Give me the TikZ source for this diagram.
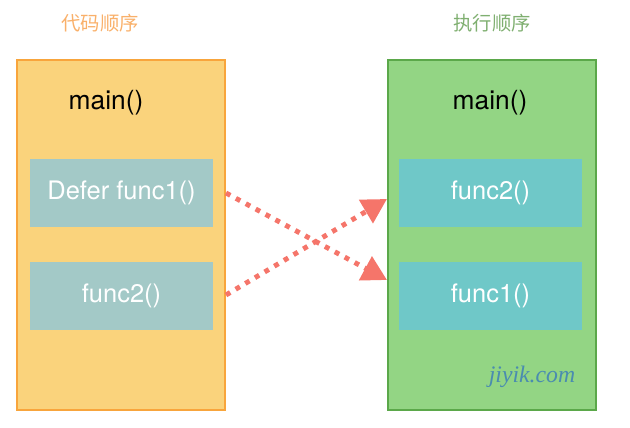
\documentclass[tikz,border=0pt]{standalone}
\usepackage{fontspec}
\setmainfont{TeX Gyre Heros}
\newfontfamily\cjk{Noto Sans CJK SC}
\newfontfamily\logofont{Liberation Serif}
\usepackage{tikz}
\usetikzlibrary{arrows.meta}
\definecolor{codefill}{HTML}{FAD37C}
\definecolor{codeline}{HTML}{F8A53C}
\definecolor{codetitle}{HTML}{F9B06A}
\definecolor{execfill}{HTML}{93D584}
\definecolor{execline}{HTML}{5BA84A}
\definecolor{exectitle}{HTML}{7FAF70}
\definecolor{oldcall}{HTML}{A3C9C7}
\definecolor{newcall}{HTML}{6FC8C8}
\definecolor{flow}{HTML}{F5756A}
\definecolor{logo}{HTML}{4A8CB0}

\begin{document}
\begin{tikzpicture}[x=0.02cm,y=-0.02cm,
		column/.style={draw, line width=1.3pt, minimum width=4.16cm, minimum height=7cm, inner sep=0pt},
		call/.style={minimum width=3.66cm, minimum height=1.36cm, inner sep=0pt, text=white, font=\fontsize{14.5}{16}\selectfont},
		flowline/.style={draw=flow, line width=2.8pt, dash pattern=on 2.8pt off 3.6pt, -{Triangle[length=14pt,width=15pt]}}]
		\useasboundingbox (0,0) rectangle (630,428);
		\node[column, fill=codefill, draw=codeline] (code) at (121,235) {};
		\node[column, fill=execfill, draw=execline] (exec) at (492,235) {};
		%
		\node[text=codetitle, font=\cjk\fontsize{11}{13}\selectfont] (codetitle) at (100,23) {代码顺序};
		\node[text=exectitle, font=\cjk\fontsize{11}{13}\selectfont] (exectitle) at (492,23) {执行顺序};
		%
		\node[font=\fontsize{15}{17}\selectfont] (codemain) at (106,103) {main()};
		\node[font=\fontsize{15}{17}\selectfont] (execmain) at (490,103) {main()};
		%
		\node[call, fill=oldcall] (defer) at (121.5,193) {Defer func1()};
		\node[call, fill=oldcall] (second) at (121.5,296) {func2()};
		\node[call, fill=newcall] (first) at (490.5,193) {func2()};
		\node[call, fill=newcall] (last) at (490.5,296) {func1()};
		%
		\node[text=logo, font=\logofont\itshape\fontsize{13.5}{15}\selectfont] (site) at (532,377) {jiyik.com};
		%
		\coordinate (deferout) at (226,193);
		\coordinate (secondout) at (226,295);
		\coordinate (firstin) at (387,199);
		\coordinate (lastin) at (387,280);
		\draw [flowline] (deferout) to (lastin);
		\draw [flowline] (secondout) to (firstin);
	\end{tikzpicture}
\end{document}
